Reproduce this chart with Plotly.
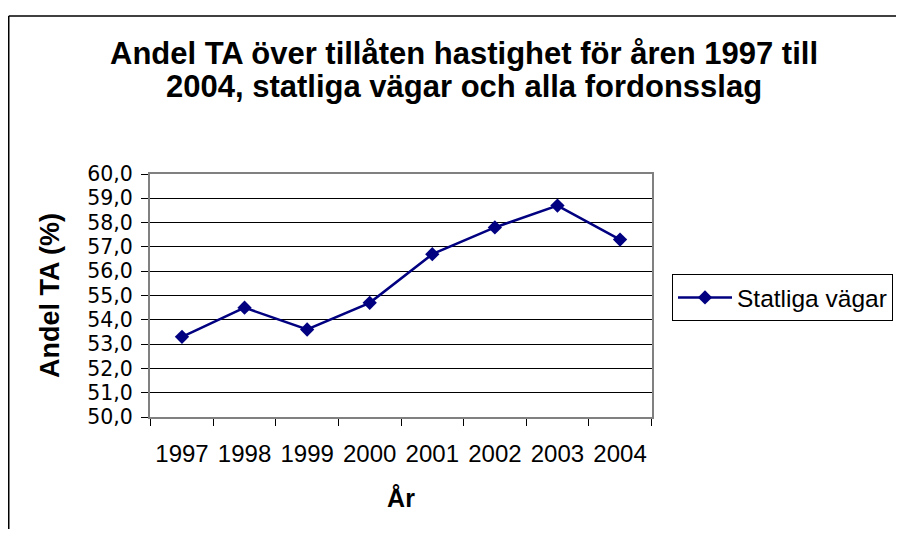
import plotly.graph_objects as go

years = ["1997", "1998", "1999", "2000", "2001", "2002", "2003", "2004"]
andel_ta = [53.3, 54.5, 53.6, 54.7, 56.7, 57.8, 58.7, 57.3]
series_name = "Statliga vägar"
title_lines = ["Andel TA över tillåten hastighet för åren 1997 till",
               "2004, statliga vägar och alla fordonsslag"]
y_title = "Andel TA (%)"
x_title = "År"

FONT = "Liberation Sans, Arial, sans-serif"
NAVY = "#000080"

fig = go.Figure()
fig.add_trace(go.Scatter(
    x=years, y=andel_ta, name=series_name, mode="lines+markers",
    line=dict(color=NAVY, width=2.5),
    marker=dict(symbol="diamond", size=11, color=NAVY),
))

# page has an 8px body margin: figure coords = page coords - 8
# figure sized so the page needs no scrollbars (8 + 888 + 8 = 904, 8 + 521 + 8 = 537)
W, H = 888, 521
L, T = 142, 166
PR, PB = 644, 409
R, B = W - PR, H - PB
pw, ph = PR - L, PB - T

def px_x(p):
    return (p - L) / pw

def px_y(p):
    return (PB - p) / ph

title_font = dict(family=FONT, size=31, weight="bold", color="black")
annotations = [
    dict(text=title_lines[0], xref="paper", yref="paper", x=px_x(455.5), y=px_y(45.5),
         xanchor="center", yanchor="middle", showarrow=False, font=title_font),
    dict(text=title_lines[1], xref="paper", yref="paper", x=px_x(456), y=px_y(79),
         xanchor="center", yanchor="middle", showarrow=False, font=title_font),
]

# chart-area frame: only top and left edges are inside the picture
frame = dict(color="black", width=1.5)
shapes = [
    dict(type="line", xref="paper", yref="paper",
         x0=px_x(0.75), x1=px_x(W), y0=px_y(8), y1=px_y(8), line=frame, layer="above"),
    dict(type="line", xref="paper", yref="paper",
         x0=px_x(0.75), x1=px_x(0.75), y0=px_y(8), y1=px_y(H), line=frame, layer="above"),
]

fig.update_layout(
    width=W, height=H,
    margin=dict(l=L, r=R, t=T, b=B, autoexpand=False),
    paper_bgcolor="white", plot_bgcolor="white",
    separators=", ",
    font=dict(family=FONT, color="black", size=24),
    annotations=annotations,
    shapes=shapes,
    showlegend=True,
    legend=dict(x=px_x(664), xanchor="left", y=px_y(266), yanchor="top",
                bordercolor="black", borderwidth=1, bgcolor="white",
                font=dict(family=FONT, size=24.5, color="black"),
                itemwidth=54),
    xaxis=dict(type="category", tickson="boundaries", ticks="outside", ticklen=7,
               tickcolor="black", tickwidth=1, showline=True, mirror=True,
               linecolor="#808080", linewidth=2, showgrid=False,
               tickfont=dict(size=24), ticklabelstandoff=14,
               title=dict(text=x_title, standoff=24,
                          font=dict(family=FONT, size=25, weight="bold"))),
    yaxis=dict(range=[50, 60], dtick=1, tickformat=".1f", ticks="outside", ticklen=7,
               tickcolor="black", tickwidth=1, showline=True, mirror=True,
               linecolor="#808080", linewidth=2, showgrid=True, gridcolor="black",
               gridwidth=1, zeroline=False,
               tickfont=dict(family="DejaVu Sans, Liberation Sans, sans-serif", size=20.5),
               ticklabelstandoff=4,
               title=dict(text=y_title, standoff=20,
                          font=dict(family=FONT, size=27, weight="bold"))),
)

fig.write_html("out.html")
